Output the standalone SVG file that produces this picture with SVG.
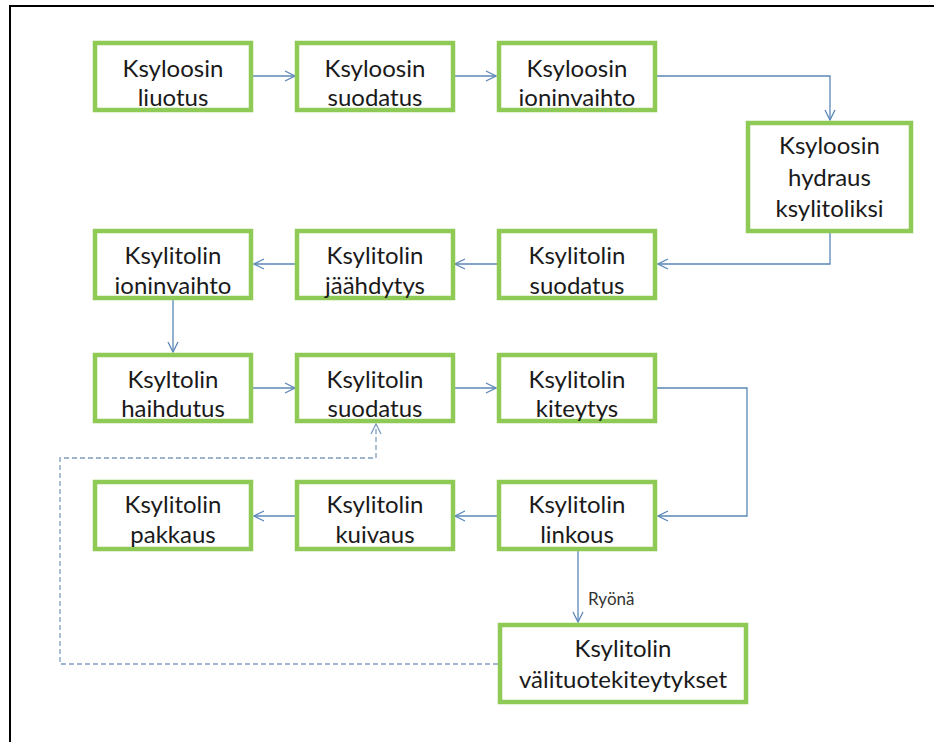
<svg xmlns="http://www.w3.org/2000/svg" width="934" height="742" viewBox="0 0 934 742">
<defs>
<style>
.box{fill:#fff;stroke:#8FC956;stroke-width:4.5}
.t{font-family:Lato,"Liberation Sans",sans-serif;font-size:24px;font-weight:400;fill:#1a1a1a;text-anchor:middle}
.c{fill:none;stroke:#5B87B8;stroke-width:1.3}
.d{fill:none;stroke:#7F9DC0;stroke-width:1.3;stroke-dasharray:5 3}
.lbl{font-family:Lato,"Liberation Sans",sans-serif;font-size:17px;fill:#333}
</style>
<marker id="a" viewBox="0 0 12 12" refX="11" refY="6" markerWidth="12" markerHeight="12" markerUnits="userSpaceOnUse" orient="auto">
<path d="M1,1 L11,6 L1,11" fill="none" stroke="#5B87B8" stroke-width="1.3"/>
</marker>
<marker id="ad" viewBox="0 0 12 12" refX="11" refY="6" markerWidth="12" markerHeight="12" markerUnits="userSpaceOnUse" orient="auto">
<path d="M1,1 L11,6 L1,11" fill="none" stroke="#7F9DC0" stroke-width="1.3"/>
</marker>
</defs>
<rect width="934" height="742" fill="#fff"/>
<path d="M10,742 V6 H934" fill="none" stroke="#000" stroke-width="2"/>

<g id="connectors">
<path class="c" d="M253,76 H295" marker-end="url(#a)"/>
<path class="c" d="M455,76 H496" marker-end="url(#a)"/>
<path class="c" d="M657,76 H830 V120" marker-end="url(#a)"/>
<path class="c" d="M830,233 V264 H658" marker-end="url(#a)"/>
<path class="c" d="M497,264 H455" marker-end="url(#a)"/>
<path class="c" d="M295,264 H254" marker-end="url(#a)"/>
<path class="c" d="M173,300 V352" marker-end="url(#a)"/>
<path class="c" d="M253,388 H295" marker-end="url(#a)"/>
<path class="c" d="M455,388 H496" marker-end="url(#a)"/>
<path class="c" d="M657,388 H747 V516 H658" marker-end="url(#a)"/>
<path class="c" d="M497,516 H455" marker-end="url(#a)"/>
<path class="c" d="M295,516 H254" marker-end="url(#a)"/>
<path class="c" d="M578,551 V622" marker-end="url(#a)"/>
<text class="lbl" x="588" y="605">Ryönä</text>
<path class="d" d="M498,664 H60 V458 H376 V424" marker-end="url(#ad)"/>
</g>

<g id="n1"><rect class="box" x="95" y="43" width="156" height="67"/><text class="t" x="173" y="77">Ksyloosin</text><text class="t" x="173" y="106">liuotus</text></g>
<g id="n2"><rect class="box" x="297" y="43" width="156" height="67"/><text class="t" x="375" y="77">Ksyloosin</text><text class="t" x="375" y="106">suodatus</text></g>
<g id="n3"><rect class="box" x="499" y="43" width="156" height="67"/><text class="t" x="577" y="77">Ksyloosin</text><text class="t" x="577" y="106">ioninvaihto</text></g>
<g id="n4"><rect class="box" x="748" y="123" width="163" height="108"/><text class="t" x="829.5" y="154">Ksyloosin</text><text class="t" x="829.5" y="186">hydraus</text><text class="t" x="829.5" y="217">ksylitoliksi</text></g>
<g id="n5"><rect class="box" x="499" y="231" width="156" height="67"/><text class="t" x="577" y="264">Ksylitolin</text><text class="t" x="577" y="294">suodatus</text></g>
<g id="n6"><rect class="box" x="297" y="231" width="156" height="67"/><text class="t" x="375" y="264">Ksylitolin</text><text class="t" x="375" y="294">jäähdytys</text></g>
<g id="n7"><rect class="box" x="95" y="231" width="156" height="67"/><text class="t" x="173" y="264">Ksylitolin</text><text class="t" x="173" y="294">ioninvaihto</text></g>
<g id="n8"><rect class="box" x="95" y="355" width="156" height="66"/><text class="t" x="173" y="388">Ksyltolin</text><text class="t" x="173" y="417">haihdutus</text></g>
<g id="n9"><rect class="box" x="297" y="355" width="156" height="66"/><text class="t" x="375" y="388">Ksylitolin</text><text class="t" x="375" y="417">suodatus</text></g>
<g id="n10"><rect class="box" x="499" y="355" width="156" height="66"/><text class="t" x="577" y="388">Ksylitolin</text><text class="t" x="577" y="417">kiteytys</text></g>
<g id="n11"><rect class="box" x="499" y="482" width="156" height="67"/><text class="t" x="577" y="513">Ksylitolin</text><text class="t" x="577" y="543">linkous</text></g>
<g id="n12"><rect class="box" x="297" y="482" width="156" height="67"/><text class="t" x="375" y="513">Ksylitolin</text><text class="t" x="375" y="543">kuivaus</text></g>
<g id="n13"><rect class="box" x="95" y="482" width="156" height="67"/><text class="t" x="173" y="513">Ksylitolin</text><text class="t" x="173" y="543">pakkaus</text></g>
<g id="n14"><rect class="box" x="500" y="625" width="246" height="77"/><text class="t" x="623" y="657">Ksylitolin</text><text class="t" x="623" y="688">välituotekiteytykset</text></g>
</svg>
